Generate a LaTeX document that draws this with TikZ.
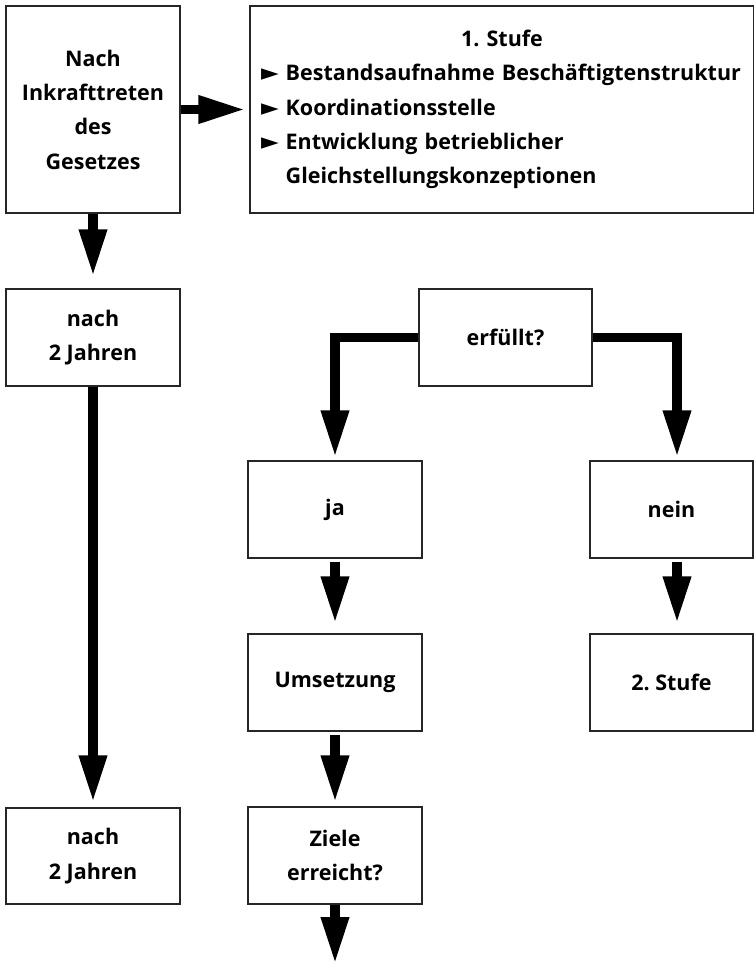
\documentclass[tikz,border=0pt]{standalone}
\usepackage{fontspec}
\setmainfont{Open Sans}
\newfontfamily\symfont{DejaVu Sans}
\usetikzlibrary{arrows.meta}
\frenchspacing
\tikzset{
	box/.style={draw=black!85, line width=1.2pt, fill=white, align=center, inner sep=0pt},
	fat/.style={line width=9.5pt, -{Triangle[length=47pt,width=26pt]}},
}
\newcommand{\pfeil}{{\symfont\fontsize{23}{34}\selectfont ►}\hspace{7pt}}
\begin{document}
\begin{tikzpicture}[x=1pt, y=-1pt, font=\fontsize{21.5}{34.3}\selectfont\bfseries, line join=miter]
		\useasboundingbox (0,0) rectangle (754,966);
		% linke Spalte
		\node[box, minimum width=174pt, minimum height=207pt] (gesetz) at (93,109.5) {Nach\\Inkrafttreten\\des\\Gesetzes};
		\node[box, minimum width=174pt, minimum height=97pt] (jahr1) at (93,337.5) {nach\\2 Jahren};
		\node[box, minimum width=174pt, minimum height=96pt] (jahr2) at (93,856) {nach\\2 Jahren};
		% Stufe 1
		\node[box, minimum width=504pt, minimum height=207pt, text width=482pt, align=left] (stufe) at (502,109.5) {{\centering 1. Stufe\par}\pfeil Bestandsaufnahme Beschäftigtenstruktur\\\pfeil Koordinationsstelle\\\pfeil Entwicklung betrieblicher\\\hphantom{\pfeil}Gleichstellungskonzeptionen};
		% Entscheidung
		\node[box, minimum width=173pt, minimum height=97pt] (erf) at (505.5,337.5) {erfüllt?};
		\node[box, minimum width=174pt, minimum height=97pt] (ja) at (335,509.5) {ja};
		\node[box, minimum width=163pt, minimum height=97pt] (nein) at (671.5,509.5) {nein};
		\node[box, minimum width=174pt, minimum height=97pt] (umsetz) at (335,682.5) {Umsetzung};
		\node[box, minimum width=163pt, minimum height=97pt] (stufe2) at (671.5,682.5) {2. Stufe};
		\node[box, minimum width=174pt, minimum height=97pt] (ziele) at (335,855.5) {Ziele\\erreicht?};
		\coordinate (ende) at (335,964);
		% Pfeile
		\draw[fat, shorten >=4pt] (gesetz.east) -- (stufe.west |- gesetz.east);
		\draw[fat, shorten >=12pt] (gesetz) -- (jahr1);
		\draw[fat, shorten >=5pt] (jahr1) -- (jahr2);
		\draw[fat, shorten >=3pt] (erf.west) -| (ja.north);
		\draw[fat, shorten >=3pt] (erf.east) -| ([xshift=5.5pt]nein.north);
		\draw[fat, shorten <=3pt, shorten >=10pt] (ja) -- (umsetz);
		\draw[fat, shorten <=3pt, shorten >=10pt] ([xshift=5.5pt]nein.south) -- ([xshift=5.5pt]stufe2.north);
		\draw[fat, shorten <=3pt, shorten >=4pt] (umsetz) -- (ziele);
		\draw[fat] (ziele) -- (ende);
\end{tikzpicture}
\end{document}
